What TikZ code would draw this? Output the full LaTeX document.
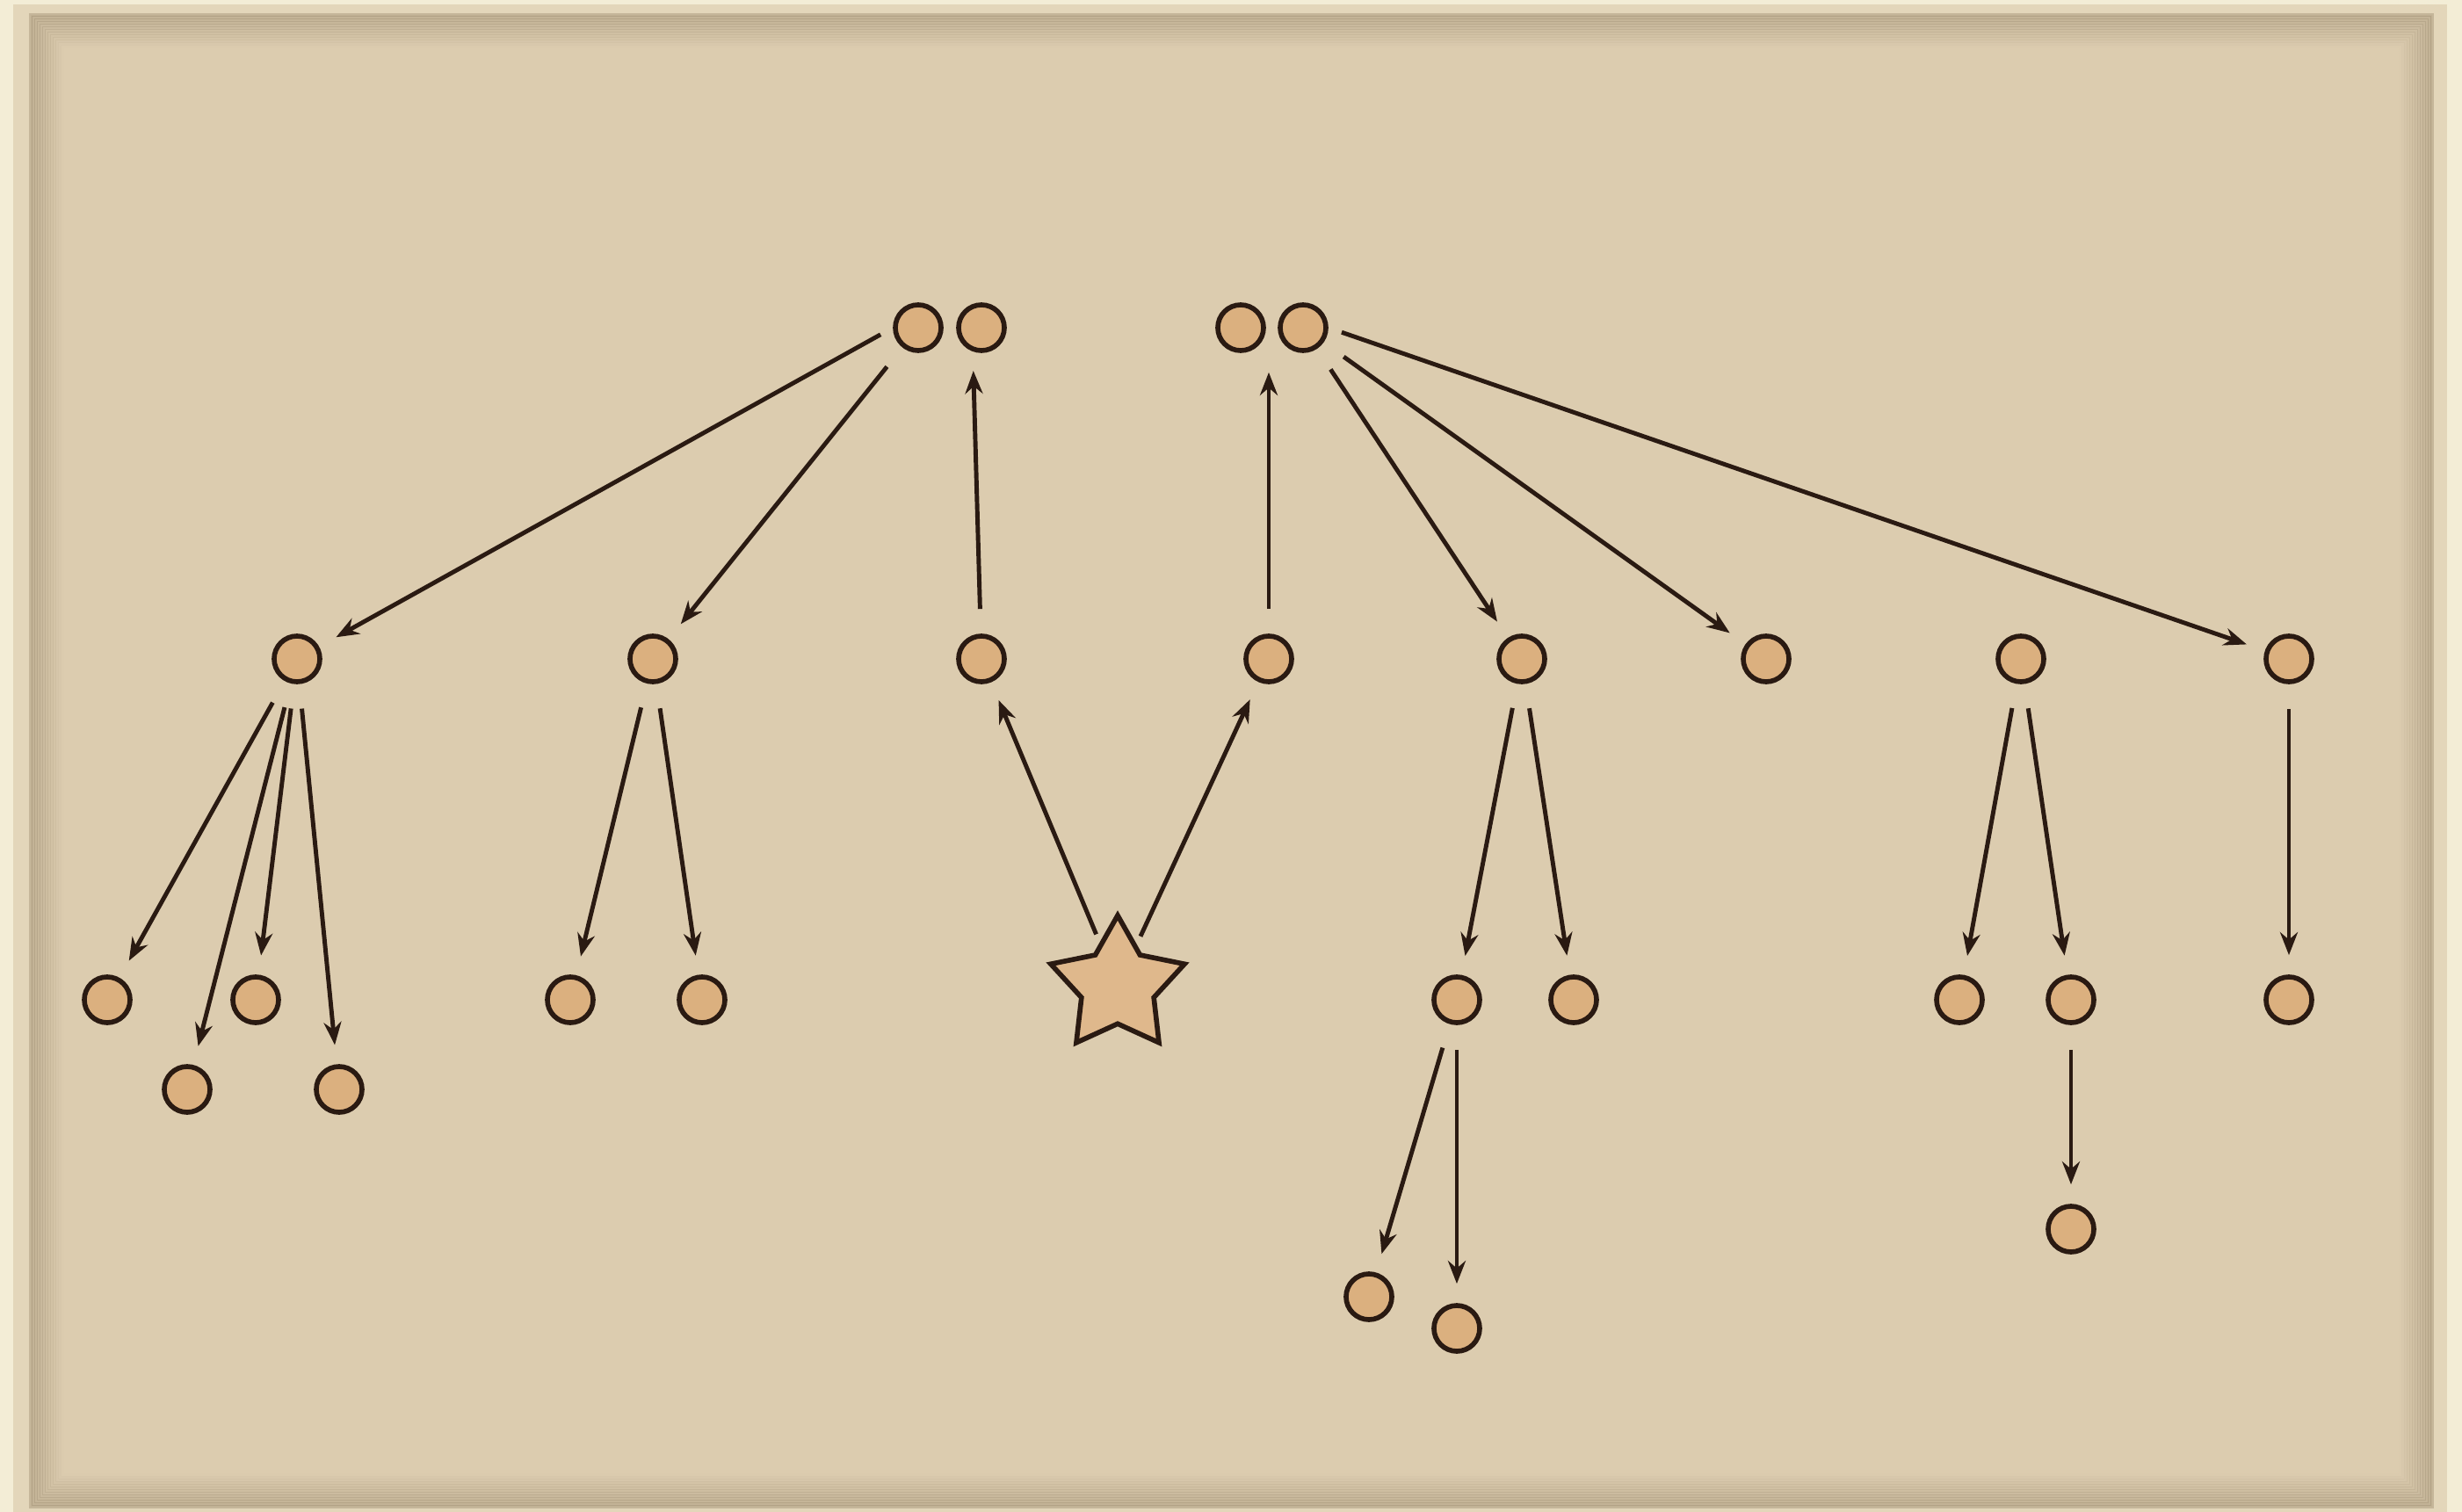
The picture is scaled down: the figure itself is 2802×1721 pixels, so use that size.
\documentclass[tikz,border=0pt]{standalone}
\usetikzlibrary{arrows.meta,shapes.geometric}
\definecolor{creamcol}{HTML}{F3EDD6}
\definecolor{bandcol}{HTML}{E3D6BA}
\definecolor{papercol}{HTML}{DCCCAF}
\definecolor{edgecol}{HTML}{9C8C70}
\definecolor{inkcol}{HTML}{2A1A12}
\definecolor{dotcol}{HTML}{DBB07F}
\begin{document}
\begin{tikzpicture}[
x=0.01cm,y=-0.01cm,
dot/.style={circle,draw=inkcol,fill=dotcol,line width=1.6pt,minimum size=5.2mm,inner sep=0pt},
root/.style={star,star points=5,star point ratio=1.85,draw=inkcol,fill=dotcol!90!white,line width=1.6pt,minimum size=16mm,inner sep=0pt},
link/.style={-{Stealth[length=2.6mm,width=2mm]},draw=inkcol,line width=1.4pt,shorten <=2.8mm,shorten >=2.2mm}
]
\useasboundingbox (0,0) rectangle (2802,1721);
\fill[creamcol] (0,0) rectangle (2802,1721);
\fill[bandcol] (15,5) rectangle (2785,1721);
\fill[papercol] (35,17) rectangle (2768,1715);
\foreach \i [evaluate=\i as \op using 0.42-0.034*\i] in {0,...,12}
  \draw[draw=edgecol,line width=0.035cm,opacity=\op] (35+\i*3,17+\i*3) rectangle (2768-\i*3,1715-\i*3);

\node[dot] (t1) at (1045,373) {};
\node[dot] (t2) at (1117,373) {};
\node[dot] (t3) at (1412,373) {};
\node[dot] (t4) at (1483,373) {};

\node[dot] (m1) at (338,750) {};
\node[dot] (m2) at (743,750) {};
\node[dot] (m3) at (1117,750) {};
\node[dot] (m4) at (1444,750) {};
\node[dot] (m5) at (1732,750) {};
\node[dot] (m6) at (2010,750) {};
\node[dot] (m7) at (2300,750) {};
\node[dot] (m8) at (2605,750) {};

\node[root] (s) at (1272,1122) {};

\node[dot] (b1) at (122,1138) {};
\node[dot] (b2) at (213,1240) {};
\node[dot] (b3) at (291,1138) {};
\node[dot] (b4) at (386,1240) {};
\node[dot] (b5) at (649,1138) {};
\node[dot] (b6) at (799,1138) {};
\node[dot] (b7) at (1658,1138) {};
\node[dot] (b8) at (1791,1138) {};
\node[dot] (b9) at (1558,1476) {};
\node[dot] (b10) at (1658,1512) {};
\node[dot] (b11) at (2230,1138) {};
\node[dot] (b12) at (2357,1138) {};
\node[dot] (b13) at (2357,1399) {};
\node[dot] (b14) at (2605,1138) {};

\foreach \a/\b in {t1/m2,t4/m5,t4/m6,
  m1/b1,m1/b2,m1/b3,m1/b4,m2/b5,m2/b6,m5/b7,m5/b8,b7/b9,b7/b10,
  m7/b11,m7/b12,b12/b13,m8/b14}
  \draw[link] (\a) -- (\b);
\draw[link,shorten <=1.6mm] (t1.west) -- (m1);
\draw[link,shorten <=1.6mm] (t4.east) -- (m8);
\draw[link] (m3) -- (t2.250);
\draw[link] (m4) -- (t3.south -| m4);
\draw[link,shorten <=1mm] (s) -- (m3);
\draw[link,shorten <=1mm] (s) -- (m4);
\end{tikzpicture}
\end{document}
